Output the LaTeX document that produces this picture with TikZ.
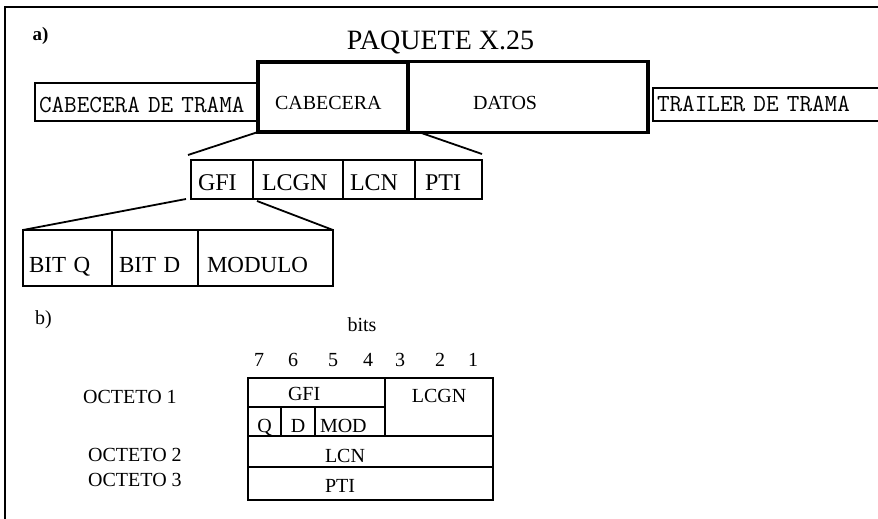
\documentclass[tikz,border=0pt]{standalone}
\usepackage{fontspec}
\setmainfont{Liberation Serif}
\usetikzlibrary{positioning}
\newcommand{\fsz}[1]{\fontsize{#1}{#1}\selectfont}
\tikzset{
  fieldbox/.style={draw, line width=1.6pt, inner ysep=0pt, inner xsep=7pt,
    outer sep=0pt, align=left, font=\fsz{24}, text height=21pt, text depth=0pt},
  thickbox/.style={fieldbox, line width=3.6pt, font=\fsz{20}, text height=24pt},
  bitbox/.style={fieldbox, font=\fsz{23}, minimum height=56pt, text height=28pt},
  tramabox/.style={fieldbox, line width=1.8pt, font=\ttfamily\fsz{24.5}},
  cellbox/.style={draw, line width=2pt, inner sep=0pt, outer sep=0pt,
    font=\fsz{20}, text depth=0pt},
  link/.style={line width=1.8pt},
  plain/.style={font=\fsz{20}, inner sep=0pt}
}
\begin{document}
\begin{tikzpicture}[x=1pt,y=-1pt]
  \path[use as bounding box, fill=white] (0,0) rectangle (878,519);
  % marco
  \draw[line width=1.8pt] (5,519) -- (5,7) -- (878,7);

  % a) paquete dentro de la trama
  \node[font=\bfseries\fsz{19}, inner sep=0pt] (lbla) at (40.5,36) {a)};
  \node[font=\fsz{28}, inner sep=0pt] (titulo) at (440.5,42) {PAQUETE X.25};
  \node[tramabox, minimum height=38pt, text width=215pt, inner xsep=4pt,
    text height=20pt] (trama) at (146.5,102) {CABECERA DE TRAMA};
  \node[thickbox, minimum height=70pt, text width=116pt, inner xsep=17pt]
    (cab) at (333,97) {CABECERA};
  \node[thickbox, minimum height=71pt, text width=110pt, inner xsep=65pt,
    anchor=west] (datos) at (cab.east) {DATOS};
  \node[tramabox, minimum height=33pt, text width=232pt, inner xsep=4pt,
    text height=13pt, anchor=west] (trailer) at (653,104.5) {TRAILER DE TRAMA};

  % campos de la cabecera
  \node[fieldbox, minimum height=39pt, text width=48pt, anchor=west]
    (gfi) at (191,179.5) {GFI};
  \node[fieldbox, minimum height=39pt, text width=72pt, inner xsep=9pt,
    right=0pt of gfi] (lcgn) {LCGN};
  \node[fieldbox, minimum height=39pt, text width=58pt, right=0pt of lcgn]
    (lcn) {LCN};
  \node[fieldbox, minimum height=39pt, text width=47pt, inner xsep=10pt,
    right=0pt of lcn] (pti) {PTI};
  \draw[link] (cab.south west) -- ([xshift=-3pt,yshift=5pt]gfi.north west);
  \draw[link] ([xshift=12pt]datos.south west) -- ([yshift=6pt]pti.north east);

  % campos del GFI
  \node[bitbox, text width=77pt, inner xsep=6pt, anchor=west]
    (bitq) at (23,258) {BIT Q};
  \node[bitbox, text width=72pt, right=0pt of bitq] (bitd) {BIT D};
  \node[bitbox, text width=117pt, inner xsep=9pt, right=0pt of bitd]
    (modulo) {MODULO};
  \draw[link] ([xshift=-5pt]gfi.south west) -- (bitq.north west);
  \draw[link] ([xshift=4pt,yshift=-2pt]lcgn.south west) -- (modulo.north east);

  % b) formato por octetos
  \node[plain] (lblb) at (43.5,320) {b)};
  \node[plain] (bits) at (362,325) {bits};
  \foreach \b/\px in {7/259,6/293,5/333,4/368,3/400,2/440,1/473}
    \node[plain, anchor=base] (bit\b) at (\px,366) {\b};

  \node[cellbox, minimum width=137pt, minimum height=29pt, text width=57pt,
    inner xsep=40pt, align=left, text height=15pt, anchor=north west]
    (gfiT) at (248,378) {GFI};
  \node[cellbox, minimum width=33pt, minimum height=29pt, text height=21pt,
    anchor=north west] (q) at (gfiT.south west) {Q};
  \node[cellbox, minimum width=34pt, minimum height=29pt, text height=21pt,
    right=0pt of q] (d) {D};
  \node[cellbox, minimum width=70pt, minimum height=29pt, text height=21pt,
    text width=60pt, inner xsep=5pt, align=left, right=0pt of d] (mod) {MOD};
  \node[cellbox, minimum width=108pt, minimum height=58pt, text height=13pt,
    text depth=23pt, anchor=north west] (lcgnT) at (gfiT.north east) {LCGN};
  \node[cellbox, minimum height=31pt, text width=91pt, inner xsep=77pt,
    align=left, text height=21pt, anchor=north west] (lcnT) at (q.south west) {LCN};
  \node[cellbox, minimum height=33pt, text width=91pt, inner xsep=77pt,
    align=left, text height=17pt, anchor=north west] (ptiT) at (lcnT.south west) {PTI};

  \node[plain, anchor=west] (oct1) at (83,397) {OCTETO 1};
  \node[plain, anchor=west] (oct2) at (88,455) {OCTETO 2};
  \node[plain, anchor=west] (oct3) at (88,480) {OCTETO 3};
\end{tikzpicture}
\end{document}
